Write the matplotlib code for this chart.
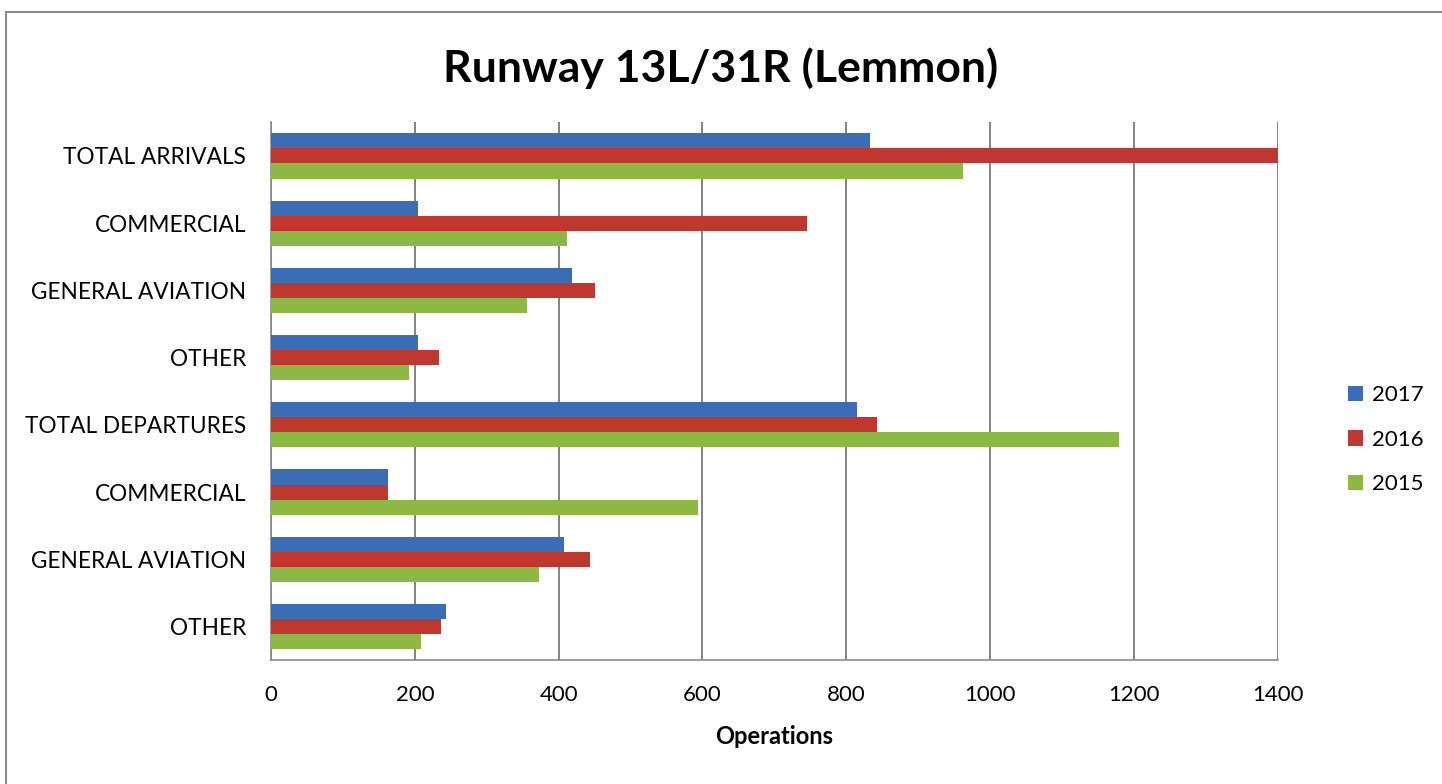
import numpy as np
import matplotlib
matplotlib.use('Agg')
import matplotlib.pyplot as plt
from matplotlib.patches import Rectangle

plt.rcParams['font.family'] = ['Lato', 'DejaVu Sans']

# categories, top to bottom
categories = ['TOTAL ARRIVALS', 'COMMERCIAL', 'GENERAL AVIATION', 'OTHER',
              'TOTAL DEPARTURES', 'COMMERCIAL', 'GENERAL AVIATION', 'OTHER']
years = ['2017', '2016', '2015']
ops_2017 = [833, 205, 419, 205, 815, 163, 408, 243]
ops_2016 = [1400, 745, 450, 233, 843, 163, 443, 237]
ops_2015 = [962, 412, 356, 192, 1180, 594, 373, 209]
xticks = [0, 200, 400, 600, 800, 1000, 1200, 1400]

colors = ['#3a6db5', '#c0372f', '#8cb944']
series = [ops_2017, ops_2016, ops_2015]

fig = plt.figure(figsize=(14.42, 7.84), dpi=100)
ax = fig.add_axes([0.188, 0.158, 0.698, 0.686])

y = np.arange(len(categories))
h = 0.224
for i, (vals, c, lab) in enumerate(zip(series, colors, years)):
    ax.barh(y + (i - 1) * h, vals, height=h, color=c, label=lab, zorder=3)

ax.set_ylim(len(categories) - 0.5, -0.5)
ax.set_xlim(0, 1400)
ax.set_xticks(xticks)
ax.set_xticklabels([str(t) for t in xticks], fontsize=16)
ax.set_yticks(y)
ax.set_yticklabels(categories, fontsize=16.3)
ax.tick_params(axis='y', length=0, pad=18)
ax.tick_params(axis='x', length=0, pad=18)
ax.xaxis.grid(True, color='#6e6e6e', linewidth=1.2, zorder=0)
for s in ['top', 'right']:
    ax.spines[s].set_visible(False)
for s in ['left', 'bottom']:
    ax.spines[s].set_color('#8a8a8a')
    ax.spines[s].set_linewidth(1.2)

ax.set_xlabel('Operations', fontsize=17, fontweight='bold', labelpad=14)
fig.suptitle('Runway 13L/31R (Lemmon)', fontsize=32, fontweight='bold', y=0.94)

ax.legend(loc='center left', bbox_to_anchor=(1.05, 0.41), frameon=False,
          fontsize=16, handlelength=0.7, handleheight=0.7, labelspacing=1.1,
          handletextpad=0.4)

# chart border
fig.patches.append(Rectangle((0.004, -0.01), 1.2, 0.995, transform=fig.transFigure,
                             fill=False, edgecolor='#8a8a8a', linewidth=1.5))

fig.savefig('out.png', dpi=100)
